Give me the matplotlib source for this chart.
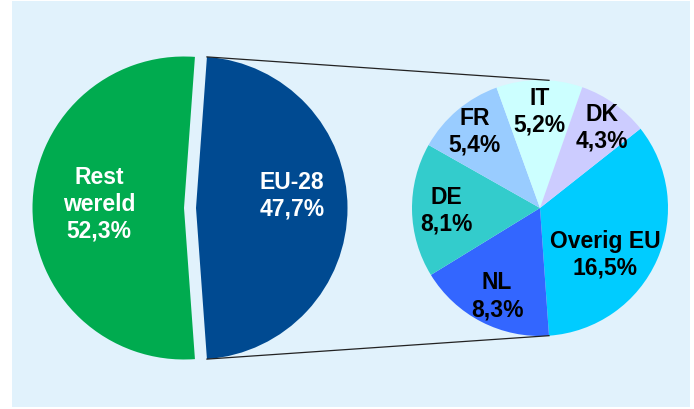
import numpy as np
import matplotlib
matplotlib.use("Agg")
import matplotlib.pyplot as plt
from matplotlib.patches import Rectangle

plt.rcParams['font.family'] = ['Liberation Sans', 'DejaVu Sans']

# Data
main_labels = ["EU-28", "Rest\nwereld"]
main_values = [47.7, 52.3]
main_colors = ["#004A91", "#00AB4F"]
main_text_colors = ["white", "white"]

sub_labels = ["Overig EU", "NL", "DE", "FR", "IT", "DK"]
sub_values = [16.5, 8.3, 8.1, 5.4, 5.2, 4.3]
sub_colors = ["#00CCFF", "#3366FF", "#33CCCC", "#99CCFF", "#CCFFFF", "#CCCCFF"]

W, H = 694, 410
fig = plt.figure(figsize=(W / 100, H / 100), dpi=100)
fig.patch.set_facecolor("white")
ax = fig.add_axes([0, 0, 1, 1])

# panel background
ax.add_patch(Rectangle((12, 2), 678, 406, facecolor="#E1F2FC", edgecolor="none", zorder=0))

# main pie (EU-28 slice pulled out to the right)
R1 = 151.5
c1 = (184, 201)
frac_eu = main_values[0] / sum(main_values) * 360
wedges1, _ = ax.pie(main_values, colors=main_colors, radius=R1, center=c1,
                    startangle=-frac_eu / 2, counterclock=True,
                    explode=[12, 0], frame=True,
                    wedgeprops=dict(linewidth=0))
label_dist1 = [0.64, 0.56]
label_off1 = [8, -3]
for w, lab, val, d, off, col in zip(wedges1, main_labels, main_values, label_dist1, label_off1, main_text_colors):
    mid = np.deg2rad((w.theta1 + w.theta2) / 2 + off)
    cx, cy = w.center
    ax.text(cx + d * w.r * np.cos(mid), cy + d * w.r * np.sin(mid),
            lab + "\n" + f"{val:.1f}%".replace(".", ","),
            ha="center", va="center", color=col, fontsize=16.5,
            fontweight="bold", linespacing=1.2, zorder=5)

# sub pie (breakdown of EU-28)
R2 = 128
c2 = (540, 201)
wedges2, _ = ax.pie(sub_values, colors=sub_colors, radius=R2, center=c2,
                    startangle=38.3, counterclock=False, frame=True,
                    wedgeprops=dict(linewidth=0))
label_dist2 = [0.62, 0.76, 0.73, 0.79, 0.76, 0.80]
label_off2 = [-11, 1, 0, 0, 0, -2]
for w, lab, val, d, off in zip(wedges2, sub_labels, sub_values, label_dist2, label_off2):
    mid = np.deg2rad((w.theta1 + w.theta2) / 2 + off)
    cx, cy = w.center
    ax.text(cx + d * w.r * np.cos(mid), cy + d * w.r * np.sin(mid),
            lab + "\n" + f"{val:.1f}%".replace(".", ","),
            ha="center", va="center", color="black", fontsize=16.5,
            fontweight="bold", linespacing=1.2, zorder=5)

# connector lines
eu = wedges1[0]
ex, ey = eu.center
a_top = np.deg2rad(eu.theta2)
a_bot = np.deg2rad(eu.theta1)
ow = wedges2[0]
b_bot = np.deg2rad(ow.theta1)
b_top = -b_bot
p1 = (ex + eu.r * np.cos(a_top), ey + eu.r * np.sin(a_top))
p2 = (c2[0] + R2 * np.cos(b_top), c2[1] + R2 * np.sin(b_top))
q1 = (ex + eu.r * np.cos(a_bot), ey + eu.r * np.sin(a_bot))
q2 = (c2[0] + R2 * np.cos(b_bot), c2[1] + R2 * np.sin(b_bot))
ax.plot([p1[0], p2[0]], [p1[1], p2[1]], color="#222222", lw=0.9, zorder=1)
ax.plot([q1[0], q2[0]], [q1[1], q2[1]], color="#222222", lw=0.9, zorder=1)

ax.set_xlim(0, W)
ax.set_ylim(0, H)
ax.set_aspect("equal")
ax.axis("off")
fig.savefig("out.png", dpi=100, facecolor="white")
